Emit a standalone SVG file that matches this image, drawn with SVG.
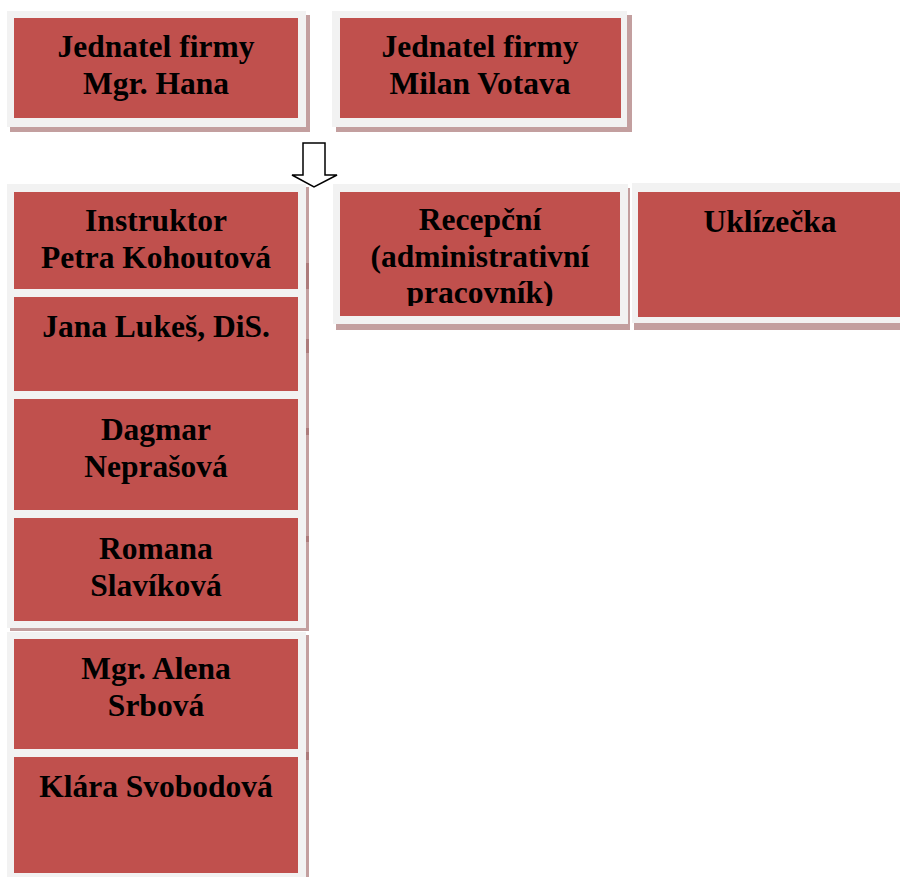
<svg xmlns="http://www.w3.org/2000/svg" width="900" height="877" viewBox="0 0 900 877">
<style>
.sh{fill:#7a2a2a;fill-opacity:0.45}
.fr{fill:#f2f2f2}
.bx{fill:#c0504d}
.t{font-family:"Liberation Serif","Times New Roman",serif;font-weight:bold;font-size:31.5px;fill:#000;text-anchor:middle}
</style>
<defs>
<clipPath id="clipRec"><rect x="340" y="192" width="280" height="114"/></clipPath>
</defs>
<rect width="900" height="877" fill="#fff"/>

<g id="jednatel-hana">
<rect class="sh" x="10" y="15" width="300" height="117"/>
<rect class="fr" x="7" y="11" width="299" height="116"/>
<rect class="bx" x="14" y="18" width="284" height="100"/>
<text class="t" x="156" y="57">Jednatel firmy</text>
<text class="t" x="156" y="94">Mgr. Hana</text>
</g>

<g id="jednatel-votava">
<rect class="sh" x="336" y="15" width="296" height="117"/>
<rect class="fr" x="332" y="11" width="295" height="116"/>
<rect class="bx" x="340" y="18" width="281" height="100"/>
<text class="t" x="480" y="57">Jednatel firmy</text>
<text class="t" x="480" y="94">Milan Votava</text>
</g>

<g id="connectors">
<path d="M303,143 H325 V175 H337 L314,187 L292,175 H303 Z" fill="#fff" stroke="#000" stroke-width="1.5" stroke-linejoin="miter"/>
</g>

<g id="column-1-shadow">
<rect class="sh" x="10" y="187" width="299" height="444"/>
<rect fill="#7a2a2a" fill-opacity="0.3" x="306" y="263" width="3" height="26"/>
<rect fill="#7a2a2a" fill-opacity="0.3" x="306" y="339" width="3" height="14"/>
<rect fill="#7a2a2a" fill-opacity="0.3" x="306" y="428" width="3" height="7"/>
<rect fill="#7a2a2a" fill-opacity="0.3" x="306" y="536" width="3" height="6"/>
<rect class="fr" x="7" y="184" width="299" height="444"/>
</g>

<g id="instruktor">
<rect class="bx" x="14" y="192" width="284" height="97"/>
<text class="t" x="156" y="231">Instruktor</text>
<text class="t" x="156" y="268">Petra Kohoutová</text>
</g>

<g id="lukes">
<rect class="bx" x="14" y="297" width="284" height="94"/>
<text class="t" x="156" y="337">Jana Lukeš, DiS.</text>
</g>

<g id="neprasova">
<rect class="bx" x="14" y="399" width="284" height="111"/>
<text class="t" x="156" y="440">Dagmar</text>
<text class="t" x="156" y="477">Neprašová</text>
</g>

<g id="slavikova">
<rect class="bx" x="14" y="518" width="284" height="103"/>
<text class="t" x="156" y="559">Romana</text>
<text class="t" x="156" y="596">Slavíková</text>
</g>

<g id="column-2-shadow">
<rect class="sh" x="10" y="635" width="299" height="242"/>
<rect fill="#7a2a2a" fill-opacity="0.3" x="306" y="752" width="3" height="8"/>
<rect class="fr" x="7" y="632" width="299" height="245"/>
</g>

<g id="srbova">
<rect class="bx" x="14" y="639" width="284" height="110"/>
<text class="t" x="156" y="679">Mgr. Alena</text>
<text class="t" x="156" y="716">Srbová</text>
</g>

<g id="svobodova">
<rect class="bx" x="14" y="757" width="284" height="116"/>
<text class="t" x="156" y="797">Klára Svobodová</text>
</g>

<g id="recepcni">
<rect class="sh" x="336" y="188" width="294" height="142"/>
<rect class="fr" x="333" y="184" width="295" height="140"/>
<rect class="bx" x="340" y="192" width="280" height="124"/>
<g clip-path="url(#clipRec)">
<text class="t" x="480" y="230">Recepční</text>
<text class="t" x="480" y="267">(administrativní</text>
<text class="t" x="480" y="303">pracovník)</text>
</g>
</g>

<g id="uklizecka">
<rect class="sh" x="634" y="187" width="266" height="143"/>
<rect class="fr" x="632" y="183" width="268" height="140"/>
<rect class="bx" x="638" y="192" width="262" height="125"/>
<text class="t" x="770" y="232">Uklízečka</text>
</g>
</svg>
